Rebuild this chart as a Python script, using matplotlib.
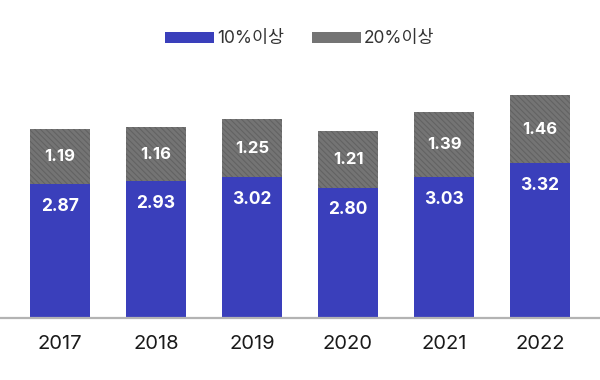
import numpy as np
import matplotlib.pyplot as plt
from matplotlib.patches import Patch

plt.rcParams['font.family'] = ['Inter', 'Noto Sans CJK KR', 'DejaVu Sans']
plt.rcParams['hatch.linewidth'] = 0.8

years = ['2017', '2018', '2019', '2020', '2021', '2022']
over10 = [2.87, 2.93, 3.02, 2.80, 3.03, 3.32]
over20 = [1.19, 1.16, 1.25, 1.21, 1.39, 1.46]
series_names = ['10%이상', '20%이상']

blue = '#3a3fbb'
gray = '#747474'

fig = plt.figure(figsize=(6, 3.8), dpi=100)
ax = fig.add_axes([0, 62 / 380, 1, 318 / 380])

x = np.arange(len(years))
w = 0.625
ax.bar(x, over10, w, color=blue, linewidth=0)
ax.bar(x, over20, w, bottom=over10, color=gray, edgecolor='#636363',
       linewidth=0, hatch='\\\\\\\\\\\\')

for i in range(len(years)):
    ax.annotate(f'{over10[i]:.2f}', (x[i], over10[i]), xytext=(0, -16),
                textcoords='offset points', ha='center', va='center',
                color='white', fontsize=12.5, fontweight='bold')
    ax.text(x[i], over10[i] + over20[i] / 2, f'{over20[i]:.2f}',
            ha='center', va='center', color='white', fontsize=12,
            fontweight='bold')

ax.set_xlim(-0.625, 5.625)
ax.set_ylim(0, 318 / 46.6)
ax.set_xticks(x)
ax.set_xticklabels(years, fontsize=14.5, color='#1a1a1a')
ax.tick_params(axis='x', length=0, pad=12)
ax.set_yticks([])
for s in ['top', 'left', 'right']:
    ax.spines[s].set_visible(False)
ax.spines['bottom'].set_color('#b3b3b3')
ax.spines['bottom'].set_linewidth(1.6)

handles = [Patch(facecolor=blue, linewidth=0),
           Patch(facecolor=gray, linewidth=0)]
fig.legend(handles, series_names, loc='center', bbox_to_anchor=(0.5, 1 - 39 / 380),
           ncol=2, frameon=False, fontsize=12.5, handlelength=2.8,
           handleheight=0.6, handletextpad=0.2, columnspacing=1.6,
           labelcolor='#333333')

fig.savefig('out.png', dpi=100)
